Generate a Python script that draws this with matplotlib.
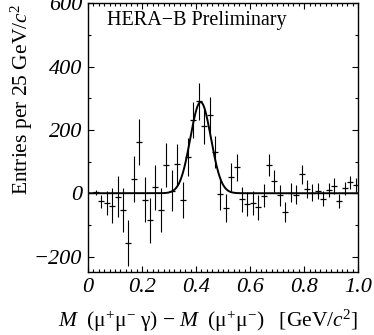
import numpy as np
import matplotlib
matplotlib.use("Agg")
import matplotlib.pyplot as plt
from matplotlib.ticker import MultipleLocator

# bin centres [GeV/c^2], entries and errors
mass_diff = [0.03, 0.05, 0.07, 0.09, 0.11, 0.13, 0.15, 0.17, 0.19, 0.21,
             0.23, 0.25, 0.27, 0.29, 0.31, 0.33, 0.35, 0.37, 0.39, 0.41,
             0.43, 0.45, 0.47, 0.49, 0.51, 0.53, 0.55, 0.57, 0.59, 0.61,
             0.63, 0.65, 0.67, 0.69, 0.71, 0.73, 0.75, 0.77, 0.79, 0.81,
             0.83, 0.85, 0.87, 0.89, 0.91, 0.93, 0.95, 0.97, 0.99]
entries = [3, -26, -32, -40, -11, -54, -158, 44, 161, -21,
           -86, 19, -54, 89, 8, 91, -21, 115, 231, 290,
           211, 248, 131, -3, -47, 52, 82, -19, -35, -30,
           -45, -8, 89, 39, -6, -59, 2, -5, 60, 13,
           2, 7, -17, 10, 23, -24, 15, 34, 25]
errors = [8, 21, 38, 55, 64, 69, 73, 73, 73, 71,
          71, 71, 69, 69, 65, 65, 58, 59, 58, 59,
          56, 57, 50, 50, 45, 45, 42, 40, 38, 38,
          38, 37, 35, 35, 33, 31, 31, 30, 30, 28,
          26, 26, 24, 22, 25, 22, 21, 21, 22]

# gaussian fit on flat zero background
fit_amp = 288
fit_mean = 0.417
fit_sigma = 0.038

x_ticks = [0, 0.2, 0.4, 0.6, 0.8, 1.0]
x_tick_labels = ["0", "0.2", "0.4", "0.6", "0.8", "1.0"]
y_ticks = [-200, 0, 200, 400, 600]
y_tick_labels = ["\u2212200", "0", "200", "400", "600"]


def main():
    plt.rcParams["font.family"] = ["Liberation Serif", "DejaVu Serif"]
    plt.rcParams["mathtext.fontset"] = "custom"
    plt.rcParams["mathtext.rm"] = "Liberation Serif"
    plt.rcParams["mathtext.it"] = "Liberation Serif:italic"
    plt.rcParams["mathtext.bf"] = "Liberation Serif:bold"

    fig = plt.figure(figsize=(3.74, 3.35), dpi=100)
    ax = fig.add_axes([0.235, 0.187, 0.723, 0.803])

    xf = np.linspace(0, 1.0, 600)
    yf = fit_amp * np.exp(-0.5 * ((xf - fit_mean) / fit_sigma) ** 2)
    ax.plot(xf, yf, color="black", lw=1.4, zorder=3)

    ax.errorbar(mass_diff, entries, yerr=errors, fmt="_", color="black",
                ecolor="black", elinewidth=0.8, markersize=4,
                markeredgewidth=0.9, capsize=0, zorder=2)

    ax.set_xlim(0, 1.0)
    ax.set_ylim(-250, 600)

    ax.set_xticks(x_ticks)
    ax.set_xticklabels(x_tick_labels, fontstyle="italic", fontsize=16)
    ax.set_yticks(y_ticks)
    ax.set_yticklabels(y_tick_labels, fontstyle="italic", fontsize=16)
    ax.xaxis.set_minor_locator(MultipleLocator(0.02))
    ax.yaxis.set_minor_locator(MultipleLocator(100))
    ax.tick_params(which="both", direction="in", top=True, right=True,
                   width=0.8)
    ax.tick_params(which="major", length=4, pad=4)
    ax.tick_params(which="minor", length=2.2)
    for s in ax.spines.values():
        s.set_linewidth(1.0)

    ax.text(0.07, 0.935, "HERA\u2212B Preliminary", transform=ax.transAxes,
            fontsize=14.5, va="center", ha="left")

    ax.set_ylabel(r"Entries per 25 GeV/$c^{2}$", fontsize=15.5,
                  loc="top", labelpad=-0.5)
    ax.set_xlabel(r"$M\ \ (\mathrm{μ^{+}μ^{-}\ γ})\ \mathrm{-}\ M\ \ (\mathrm{μ^{+}μ^{-}})\ \ \ [\mathrm{GeV}/c^{2}]$",
                  fontsize=15.5, loc="right", labelpad=8)

    fig.savefig("out.png", dpi=100)


if __name__ == "__main__":
    main()
